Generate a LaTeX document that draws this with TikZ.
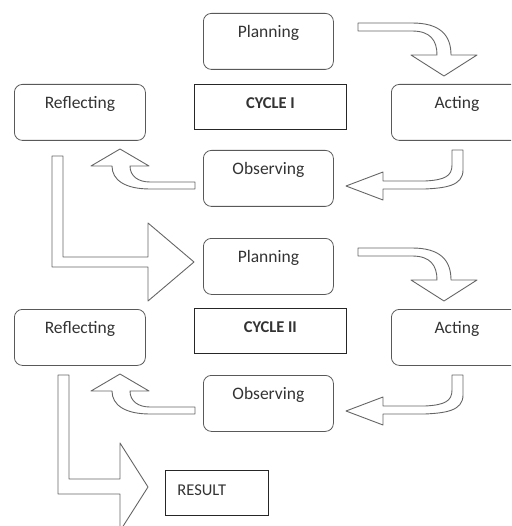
\documentclass[tikz,border=0pt]{standalone}
\usepackage{fontspec}
\setmainfont{Carlito}
\begin{document}
\begin{tikzpicture}[
    x=1pt, y=-1pt,
    every node/.style={font=\fontsize{17.5}{20}\selectfont, text=black!80},
    stage/.style={draw=black!65, rounded corners=8pt, line width=0.8pt,
      anchor=north west, inner ysep=0pt, minimum width=130pt,
      text height=24pt, text depth=32pt},
    cyclebox/.style={draw=black!85, line width=0.8pt, anchor=north west,
      inner ysep=0pt, minimum width=152pt, text height=24pt, text depth=21pt,
      font=\fontsize{16.5}{20}\selectfont\bfseries},
    resultbox/.style={draw=black!85, line width=0.8pt, anchor=north west,
      inner ysep=0pt, inner xsep=12pt, text width=79pt, align=left,
      text height=25pt, text depth=20pt, font=\fontsize{16.5}{20}\selectfont},
    blockarrow/.style={draw=black!60, fill=white, line width=0.9pt, line join=round},
  ]
  \useasboundingbox (0,0) rectangle (511,526);
  \clip (0,0) rectangle (511,526);

  % cycle I
  \node[stage] (plan1) at (203, 13) {Planning};
  \node[cyclebox] (cyc1) at (194, 84) {CYCLE I};
  \node[stage, minimum width=131pt] (act1) at (391, 84) {Acting};
  \node[stage] (obs1) at (203,150) {Observing};
  \node[stage, minimum width=131pt] (refl1) at (14, 84) {Reflecting};

  % cycle II
  \node[stage] (plan2) at (203,238) {Planning};
  \node[cyclebox] (cyc2) at (194,308) {CYCLE II};
  \node[stage, minimum width=131pt] (act2) at (391,309) {Acting};
  \node[stage] (obs2) at (203,375) {Observing};
  \node[stage, minimum width=131pt] (refl2) at (14,309) {Reflecting};

  \node[resultbox] (res) at (165,470) {RESULT};

  % same three arrows in both cycles
  \foreach \dy in {0,225} {
    \begin{scope}[shift={(0,\dy)}]
      % planning -> acting
      \draw[blockarrow] (358,23) -- (412,23) .. controls (440,23) and (451,35) .. (451,55)
        -- (477,55) -- (444,76) -- (411,55) -- (437,55)
        .. controls (437,40) and (430,31) .. (412,31) -- (358,31) -- cycle;
      % acting -> observing
      \draw[blockarrow] (452,150) -- (463,150) -- (463,170)
        .. controls (463,186) and (445,188) .. (425,189) -- (383,189) -- (383,200)
        -- (346,186) -- (383,172) -- (383,181) -- (425,181)
        .. controls (445,180) and (452,176) .. (452,165) -- cycle;
      % observing -> reflecting
      \draw[blockarrow] (195,189) -- (150,189) .. controls (125,189) and (112,180) .. (112,166)
        -- (91,166) -- (120,149) -- (149,166) -- (130,166)
        .. controls (130,176) and (138,182) .. (150,182) -- (195,182) -- cycle;
    \end{scope}
  }

  % reflecting -> next planning
  \draw[blockarrow] (52,156) -- (63,156) -- (63,257) -- (148,257) -- (148,223)
    -- (194,262) -- (148,301) -- (148,267) -- (52,267) -- cycle;
  % reflecting -> result
  \draw[blockarrow] (58,375) -- (69,375) -- (69,479) -- (120,479) -- (120,443)
    -- (148,487) -- (120,531) -- (120,494) -- (58,494) -- cycle;
\end{tikzpicture}
\end{document}
